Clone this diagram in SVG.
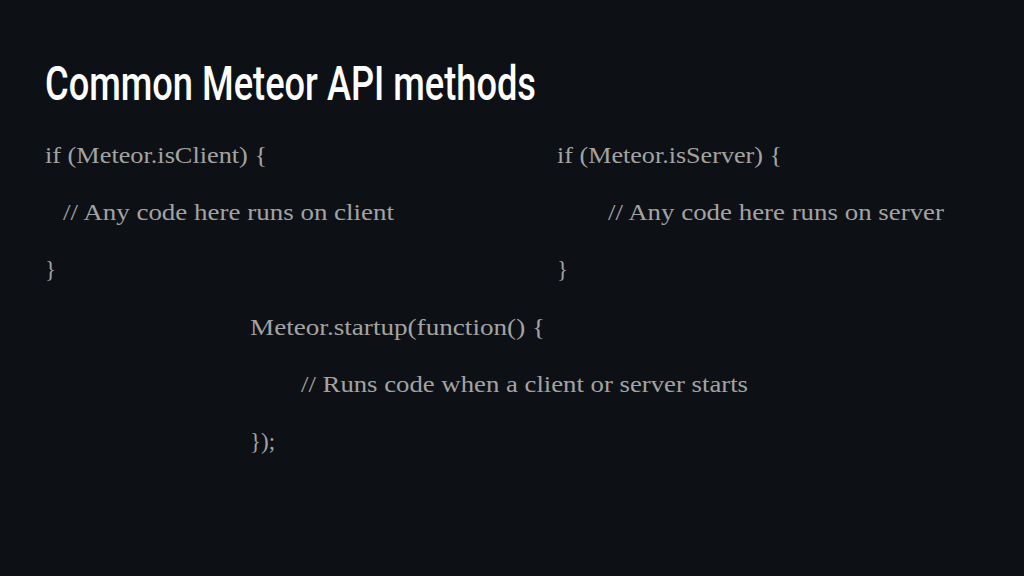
<svg xmlns="http://www.w3.org/2000/svg" width="1024" height="576" viewBox="0 0 1024 576">
<style>
.bg{fill:#0d1115}
.title{font-family:"Roboto","Liberation Sans",sans-serif;font-weight:500;font-size:49px;fill:#ffffff}
.code{font-family:"Liberation Serif","DejaVu Serif",serif;font-size:23px;fill:#a3a3a3}
</style>
<rect class="bg" x="0" y="0" width="1024" height="576"/>
<text class="title" x="45" y="100" textLength="491" lengthAdjust="spacingAndGlyphs">Common Meteor API methods</text>
<g id="client">
<text class="code" x="45" y="163" textLength="222" lengthAdjust="spacingAndGlyphs">if (Meteor.isClient) {</text>
<text class="code" x="63" y="220" textLength="331" lengthAdjust="spacingAndGlyphs">// Any code here runs on client</text>
<text class="code" x="45" y="277">}</text>
</g>
<g id="server">
<text class="code" x="557" y="163" textLength="225" lengthAdjust="spacingAndGlyphs">if (Meteor.isServer) {</text>
<text class="code" x="608" y="220" textLength="336" lengthAdjust="spacingAndGlyphs">// Any code here runs on server</text>
<text class="code" x="557" y="277">}</text>
</g>
<g id="startup">
<text class="code" x="250" y="335" textLength="295" lengthAdjust="spacingAndGlyphs">Meteor.startup(function() {</text>
<text class="code" x="301" y="392" textLength="447" lengthAdjust="spacingAndGlyphs">// Runs code when a client or server starts</text>
<text class="code" x="250" y="449" textLength="25" lengthAdjust="spacingAndGlyphs">});</text>
</g>
</svg>
